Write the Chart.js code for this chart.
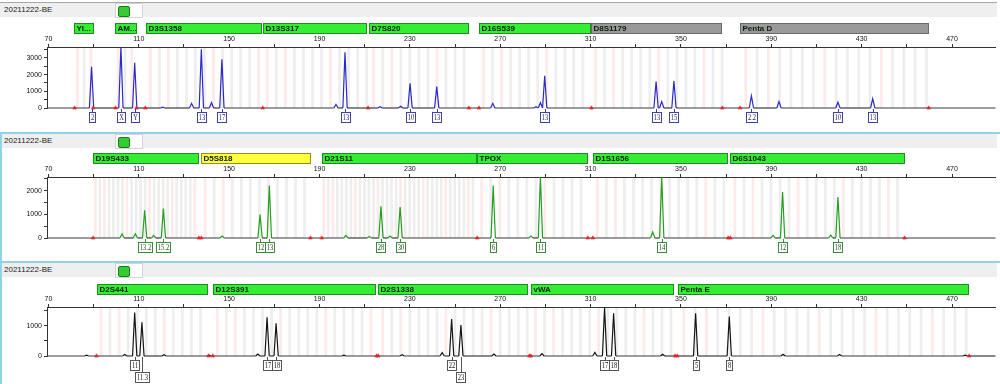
<!DOCTYPE html>
<html><head><meta charset="utf-8">
<script src="https://cdn.jsdelivr.net/npm/chart.js@4.4.1/dist/chart.umd.min.js"></script>
<style>
body{margin:0;background:#fff;width:1000px;height:384px;overflow:hidden;position:relative;font-family:Arial,"Liberation Sans",sans-serif}
.panel{position:absolute;left:0;width:1000px}
.hdr{position:absolute;left:0;width:997px;height:14px;background:#efefef;font-size:8px;line-height:14px;color:#222;text-indent:4px}
.icon{position:absolute;left:115px;width:28px;height:15px;background:#fff;border:1px solid #d4d4d4;box-sizing:border-box}
.icon i{position:absolute;left:2px;top:2px;width:10px;height:9px;background:#3c3;border:1px solid #1a7a1a;border-radius:2px}
canvas{position:absolute;left:0;top:0}
.cy{position:absolute;background:#8fd3e6}
</style></head>
<body>
<div class="panel" style="top:0;height:131px">
  <div style="position:absolute;left:0;top:2px;width:997px;height:1px;background:#a8a8a8"></div>
  <div class="hdr" style="top:3px">20211222-BE</div>
  <div class="icon" style="top:3px"><i></i></div>
  <canvas id="c1"></canvas>
</div>
<div class="panel" style="top:131px;height:129px">
  <div class="cy" style="left:0;top:1px;width:1000px;height:2px"></div>
  <div class="hdr" style="top:3px">20211222-BE</div>
  <div class="icon" style="top:3px"><i></i></div>
  <canvas id="c2"></canvas>
</div>
<div class="panel" style="top:260px;height:124px">
  <div class="cy" style="left:0;top:1px;width:1000px;height:2px"></div>
  <div class="hdr" style="top:3px">20211222-BE</div>
  <div class="icon" style="top:3px"><i></i></div>
  <canvas id="c3"></canvas>
</div>
<div class="cy" style="left:0;top:132px;width:2px;height:252px"></div>
<script>
// ---------- shared axis values ----------
const XMIN = 69.38, XMAX = 489.25;
const xTickMarks = [70, 90, 110, 130, 150, 170, 190, 210, 230, 250, 270, 290, 310, 330, 350, 370, 390, 410, 430, 450, 470];
const xTickLabels = [70, 110, 150, 190, 230, 270, 310, 350, 390, 430, 470];

// ---------- panel 1 (blue) ----------
const p1Loci = ['YI...', 'AM...', 'D3S1358', 'D13S317', 'D7S820', 'D16S539', 'D8S1179', 'Penta D'];
const p1LocusStart = [81.3, 99.4, 113.1, 164.9, 212.0, 260.6, 310.2, 376.2];
const p1LocusEnd = [90.1, 109.1, 164.7, 211.1, 256.1, 310.0, 368.3, 459.7];
const p1LocusStatus = ['ok', 'ok', 'ok', 'ok', 'ok', 'ok', 'none', 'none'];
const p1LocusRepeat = [3, 3, 4, 4, 4, 4, 4, 5];
const p1AlleleBp = [89.1, 102.1, 108.2, 137.7, 146.8, 201.3, 230.1, 241.9, 289.7, 339.0, 346.9, 381.2, 419.5, 434.9];
const p1AlleleRfu = [2470, 3650, 2710, 3510, 2920, 3340, 1480, 1280, 1920, 1580, 1620, 720, 340, 560];
const p1AlleleName = ['2', 'X', 'Y', '13', '17', '13', '10', '13', '13', '13', '15', '2.2', '10', '13'];
const p1LabelRow = [0, 0, 0, 0, 0, 0, 0, 0, 0, 0, 0, 0, 0, 0];
const p1MinorBp = [120.6, 133.4, 142.2, 197.3, 216.8, 225.9, 266.7, 285.8, 287.8, 341.5, 393.4];
const p1MinorRfu = [50, 280, 320, 220, 80, 100, 280, 80, 320, 380, 380];
const p1OffLadder = [81.6, 89.8, 99.7, 109.0, 112.9, 164.9, 211.5, 256.1, 260.6, 310.4, 368.3, 376.2, 459.7];
const p1YTicks = [0, 500, 1000, 1500, 2000, 2500, 3000, 3500];
const p1YLabels = [0, 1000, 2000, 3000];

// ---------- panel 2 (green) ----------
const p2Loci = ['D19S433', 'D5S818', 'D21S11', 'TPOX', 'D1S1656', 'D6S1043'];
const p2LocusStart = [89.8, 137.4, 190.9, 259.8, 311.0, 371.9];
const p2LocusEnd = [136.6, 186.2, 259.8, 308.8, 370.9, 449.2];
const p2LocusStatus = ['ok', 'warn', 'ok', 'ok', 'ok', 'ok'];
const p2LocusRepeat = [2, 4, 2, 4, 4, 4];
const p2AlleleBp = [112.6, 120.9, 163.7, 167.8, 217.2, 225.7, 266.9, 287.8, 341.5, 395.0, 419.5];
const p2AlleleRfu = [1170, 1240, 990, 2220, 1340, 1310, 2220, 2570, 2570, 1940, 1730];
const p2AlleleName = ['13.2', '15.2', '12', '13', '28', '30', '6', '11', '14', '12', '18'];
const p2LabelRow = [0, 0, 0, 0, 0, 0, 0, 0, 0, 0, 0];
const p2MinorBp = [102.6, 108.5, 116.6, 146.9, 201.7, 212.0, 221.2, 283.6, 337.5, 390.8, 416.3];
const p2MinorRfu = [180, 180, 110, 85, 110, 60, 85, 85, 250, 110, 125];
const p2OffLadder = [89.8, 136.6, 137.7, 186.0, 191.0, 259.8, 308.8, 311.0, 370.9, 371.9, 449.0];
const p2YTicks = [0, 500, 1000, 1500, 2000, 2500];
const p2YLabels = [0, 1000, 2000];

// ---------- panel 3 (black) ----------
const p3Loci = ['D2S441', 'D12S391', 'D2S1338', 'vWA', 'Penta E'];
const p3LocusStart = [91.3, 142.8, 216.0, 283.6, 348.8];
const p3LocusEnd = [140.6, 214.9, 282.3, 346.9, 477.6];
const p3LocusStatus = ['ok', 'ok', 'ok', 'ok', 'ok'];
const p3LocusRepeat = [4, 4, 4, 4, 5];
const p3AlleleBp = [108.2, 111.4, 166.8, 170.8, 248.5, 252.6, 316.2, 320.2, 356.5, 371.4];
const p3AlleleRfu = [1450, 1120, 1290, 1090, 1230, 1030, 1610, 1420, 1420, 1310];
const p3AlleleName = ['11', '11.3', '17', '18', '22', '23', '17', '18', '5', '8'];
const p3LabelRow = [0, 1, 0, 0, 0, 1, 0, 0, 0, 0];
const p3MinorBp = [86.9, 103.8, 121.2, 141.1, 162.7, 200.8, 226.6, 244.3, 267.2, 288.5, 311.9, 341.9, 395.2, 420.2, 475.8];
const p3MinorRfu = [30, 50, 40, 30, 65, 30, 40, 110, 65, 80, 120, 60, 60, 50, 30];
const p3OffLadder = [91.3, 140.9, 142.8, 215.3, 216.0, 282.9, 283.6, 347.4, 348.4, 477.6];
const p3YTicks = [0, 500, 1000, 1500];
const p3YLabels = [0, 1000];

// ---------- styling / layout ----------
const DYE = {
  blue: {line: '#2a2ac8', box: '#4040a8', text: '#20206a'},
  green: {line: '#22a022', box: '#3a8a3a', text: '#163f16'},
  black: {line: '#151515', box: '#555555', text: '#111111'}
};
const STATUS = {
  ok: {fill: '#33ee33', stroke: '#228a22'},
  warn: {fill: '#ffff3a', stroke: '#9a8a22'},
  none: {fill: '#9a9a9a', stroke: '#6a6a6a'}
};

function buildTrace(bpA, rfuA, bpB, rfuB) {
  const peaks = [];
  bpA.forEach((b, i) => peaks.push([b, rfuA[i]]));
  bpB.forEach((b, i) => peaks.push([b, rfuB[i]]));
  peaks.sort((a, b) => a[0] - b[0]);
  const pts = [{x: XMIN, y: 0}];
  const hw = 0.95;
  peaks.forEach(([b, h]) => {
    pts.push({x: b - hw, y: 0});
    pts.push({x: b, y: h});
    pts.push({x: b + hw, y: 0});
  });
  pts.push({x: XMAX, y: 0});
  return pts;
}

const decorPlugin = {
  id: 'decor',
  beforeDatasetsDraw(chart, args, o) {
    const ctx = chart.ctx, xs = chart.scales.x, ca = chart.chartArea;
    ctx.save();
    o.loci.start.forEach((s, i) => {
      const e = o.loci.end[i], step = o.loci.repeat[i];
      let k = 0;
      for (let b = s + step * 0.5; b < e; b += step, k++) {
        const x0 = xs.getPixelForValue(b - 0.6), x1 = xs.getPixelForValue(b + 0.6);
        ctx.fillStyle = (k % 5 === 2 || k === 0) ? '#fdeaea' : '#eeeeee';
        ctx.fillRect(x0, ca.top + 1, Math.max(1.5, x1 - x0), ca.bottom - ca.top - 1);
      }
    });
    ctx.restore();
  },
  afterDraw(chart, args, o) {
    const ctx = chart.ctx, xs = chart.scales.x, ca = chart.chartArea;
    ctx.save();
    // locus bars
    o.loci.names.forEach((n, i) => {
      const x0 = Math.round(xs.getPixelForValue(o.loci.start[i])) + 0.5;
      const x1 = Math.round(xs.getPixelForValue(o.loci.end[i])) - 0.5;
      const st = STATUS[o.loci.status[i]];
      ctx.fillStyle = st.fill;
      ctx.fillRect(x0, o.barTop + 0.5, x1 - x0, o.barH);
      ctx.strokeStyle = st.stroke;
      ctx.lineWidth = 1;
      ctx.strokeRect(x0, o.barTop + 0.5, x1 - x0, o.barH);
      ctx.save();
      ctx.beginPath();
      ctx.rect(x0, o.barTop, x1 - x0, o.barH + 1);
      ctx.clip();
      ctx.fillStyle = '#0b1f0b';
      ctx.font = 'bold 8px Arial';
      ctx.textBaseline = 'middle';
      ctx.textAlign = 'left';
      ctx.fillText(n, x0 + 2, o.barTop + o.barH / 2 + 1);
      ctx.restore();
    });
    // allele labels
    const d = DYE[o.dye];
    ctx.font = '9px "Liberation Serif"';
    o.alleles.bp.forEach((b, i) => {
      const px = xs.getPixelForValue(b);
      const t = o.alleles.name[i];
      const tw = ctx.measureText(t).width * 0.72;
      const w = Math.round(tw + 3), h = 10;
      const row = o.alleles.row[i];
      const top = Math.round(ca.bottom + 4 + row * 12) + 0.5;
      const left = Math.round(px - w / 2) + 0.5;
      ctx.strokeStyle = d.box;
      ctx.lineWidth = 1;
      ctx.beginPath();
      ctx.moveTo(Math.round(px) + 0.5, ca.bottom + 1);
      ctx.lineTo(Math.round(px) + 0.5, top);
      ctx.stroke();
      ctx.fillStyle = '#fff';
      ctx.fillRect(left, top, w, h);
      ctx.strokeRect(left, top, w, h);
      ctx.save();
      ctx.translate(left + w / 2, top + h / 2 + 0.5);
      ctx.scale(0.72, 1);
      ctx.fillStyle = d.text;
      ctx.textAlign = 'center';
      ctx.textBaseline = 'middle';
      ctx.fillText(t, 0, 0);
      ctx.restore();
    });
    ctx.restore();
  }
};

function makePanel(id, H, padTop, padBottom, yMax, yTicks, yLabels, dye, loci, alleles, minor, offLadder, barTop) {
  const canvas = document.getElementById(id);
  canvas.width = 1000; canvas.height = H;
  const dc = DYE[dye];
  new Chart(canvas, {
    type: 'line',
    data: {
      datasets: [
        {
          data: buildTrace(alleles.bp, alleles.rfu, minor.bp, minor.rfu),
          borderColor: dc.line, borderWidth: 1.2, pointRadius: 0, tension: 0, clip: false, order: 1,
          segment: {borderColor: c => (c.p0.parsed.y === 0 && c.p1.parsed.y === 0) ? '#3a3a3a' : dc.line}
        },
        {
          type: 'scatter',
          data: offLadder.map(x => ({x: x, y: 0})),
          pointStyle: 'triangle', pointRadius: 2.2, backgroundColor: '#e52222', borderColor: '#e52222',
          borderWidth: 0.5, clip: false, order: 0
        }
      ]
    },
    options: {
      animation: false, responsive: false, devicePixelRatio: 1,
      layout: {padding: {top: padTop, bottom: padBottom, left: 0, right: 2}},
      plugins: {
        legend: {display: false}, tooltip: {enabled: false},
        decor: {loci: loci, alleles: alleles, dye: dye, barTop: barTop, barH: 10}
      },
      scales: {
        x: {
          type: 'linear', position: 'top', min: XMIN, max: XMAX,
          afterBuildTicks: a => { a.ticks = xTickMarks.map(v => ({value: v})); },
          afterFit: s => { s.height = 12; },
          ticks: {autoSkip: false, maxRotation: 0, minRotation: 0, padding: 1, color: '#111',
            font: {size: 7, family: 'Arial'},
            callback: v => xTickLabels.includes(v) ? String(v) : ''},
          grid: {drawOnChartArea: false, tickLength: 3, color: '#333'},
          border: {color: '#333', width: 1}
        },
        y: {
          type: 'linear', min: 0, max: yMax,
          afterBuildTicks: a => { a.ticks = yTicks.map(v => ({value: v})); },
          afterFit: s => { s.width = 47; },
          ticks: {autoSkip: false, padding: 2, color: '#111', font: {size: 7, family: 'Arial'},
            callback: v => yLabels.includes(v) ? String(v) : ''},
          grid: {drawOnChartArea: false, tickLength: 3, color: '#333'},
          border: {color: '#333', width: 1}
        }
      }
    },
    plugins: [decorPlugin]
  });
}

makePanel('c1', 131, 35, 23, 3650, p1YTicks, p1YLabels, 'blue',
  {names: p1Loci, start: p1LocusStart, end: p1LocusEnd, status: p1LocusStatus, repeat: p1LocusRepeat},
  {bp: p1AlleleBp, rfu: p1AlleleRfu, name: p1AlleleName, row: p1LabelRow},
  {bp: p1MinorBp, rfu: p1MinorRfu}, p1OffLadder, 23);
makePanel('c2', 129, 34, 22, 2575, p2YTicks, p2YLabels, 'green',
  {names: p2Loci, start: p2LocusStart, end: p2LocusEnd, status: p2LocusStatus, repeat: p2LocusRepeat},
  {bp: p2AlleleBp, rfu: p2AlleleRfu, name: p2AlleleName, row: p2LabelRow},
  {bp: p2MinorBp, rfu: p2MinorRfu}, p2OffLadder, 22);
makePanel('c3', 124, 35, 28, 1630, p3YTicks, p3YLabels, 'black',
  {names: p3Loci, start: p3LocusStart, end: p3LocusEnd, status: p3LocusStatus, repeat: p3LocusRepeat},
  {bp: p3AlleleBp, rfu: p3AlleleRfu, name: p3AlleleName, row: p3LabelRow},
  {bp: p3MinorBp, rfu: p3MinorRfu}, p3OffLadder, 24);
</script>
</body></html>
